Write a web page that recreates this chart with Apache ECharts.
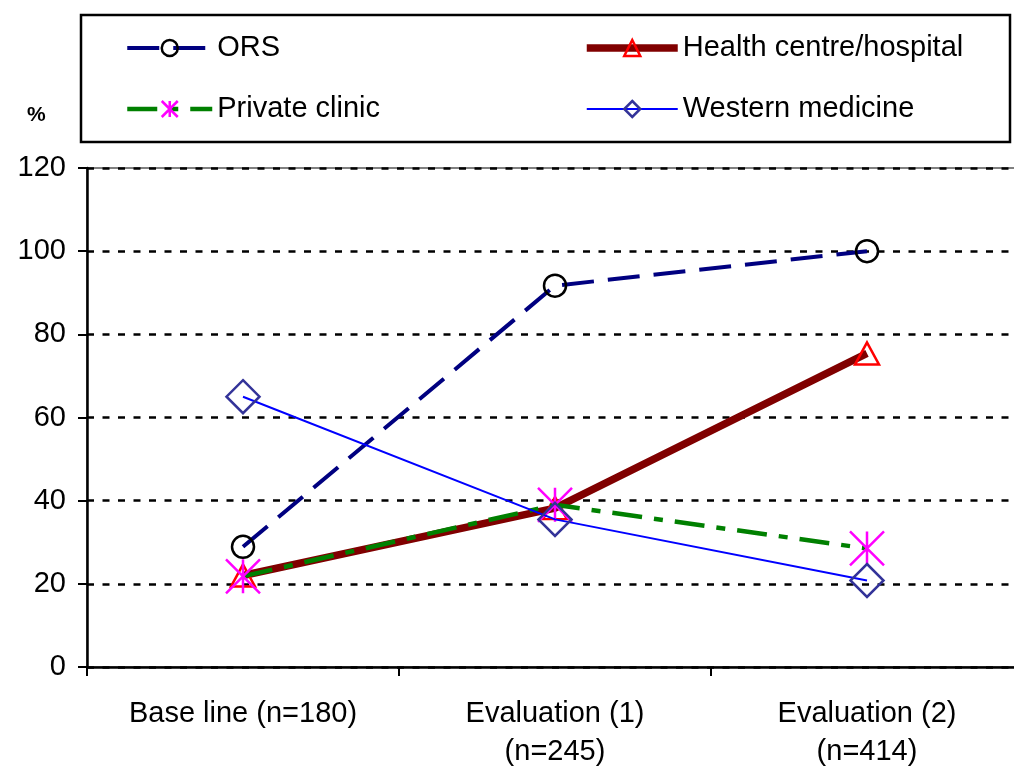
<!DOCTYPE html>
<html>
<head>
<meta charset="utf-8">
<script src="https://cdn.jsdelivr.net/npm/echarts@6/dist/echarts.min.js"></script>
<style>
  html, body { margin: 0; padding: 0; background: #ffffff; }
  #chart { width: 1014px; height: 768px; }
</style>
</head>
<body>
<div id="chart"></div>
<script>
// Survey rounds on the x axis
const categories = ['Base line (n=180)', 'Evaluation (1)\n(n=245)', 'Evaluation (2)\n(n=414)'];

// Percentages per round
const orsValues = [28.9, 91.7, 100];
const healthCentreValues = [22, 38.2, 75.4];
const privateClinicValues = [21.8, 39, 28.5];
const westernMedicineValues = [65, 35.5, 20.8];

// Y axis range
const yMin = 0;
const yMax = 120;
const yStep = 20;

const FONT = '"Liberation Sans", Arial, sans-serif';
const asterisk = 'path://M0,-10 L0,10 M-10,-10 L10,10 M-10,10 L10,-10';

const styles = {
  'ORS': {
    line: { color: '#000080', width: 4, type: [32, 14] },
    item: { color: 'rgba(255,255,255,0)', borderColor: '#000', borderWidth: 2.5 }
  },
  'Health centre/hospital': {
    line: { color: '#800000', width: 7.5, type: 'solid' },
    item: { color: 'rgba(255,255,255,0)', borderColor: '#ff0000', borderWidth: 2.5 }
  },
  'Private clinic': {
    line: { color: '#008000', width: 4.5, type: [30, 12, 9, 12] },
    item: { color: 'rgba(255,255,255,0)', borderColor: '#ff00ff', borderWidth: 2.5 }
  },
  'Western medicine': {
    line: { color: '#0000ff', width: 2, type: 'solid' },
    item: { color: 'rgba(255,255,255,0)', borderColor: '#333399', borderWidth: 2.5 }
  }
};

function legendItems(names) {
  return names.map(n => ({ name: n, lineStyle: styles[n].line, itemStyle: styles[n].item }));
}

const chart = echarts.init(document.getElementById('chart'), null, { renderer: 'canvas' });

chart.setOption({
  animation: false,
  backgroundColor: '#ffffff',
  textStyle: { fontFamily: FONT },
  title: {
    text: '%',
    left: 22,
    top: 100,
    textStyle: { fontFamily: FONT, fontSize: 21, fontWeight: 'bold', color: '#000' }
  },
  graphic: [{
    type: 'rect',
    shape: { x: 81, y: 15, width: 929, height: 127 },
    style: { fill: 'none', stroke: '#000', lineWidth: 2.5 },
    z: 0
  }],
  legend: [{
    data: legendItems(['ORS', 'Private clinic']),
    orient: 'vertical',
    left: 125,
    top: 33,
    padding: 0,
    itemWidth: 85,
    itemHeight: 20,
    itemGap: 31,
    textStyle: { fontFamily: FONT, fontSize: 29, color: '#000', lineHeight: 30 }
  }, {
    data: legendItems(['Health centre/hospital', 'Western medicine']),
    orient: 'vertical',
    left: 583,
    top: 33,
    padding: 0,
    itemWidth: 91,
    itemHeight: 20,
    itemGap: 31,
    textStyle: { fontFamily: FONT, fontSize: 29, color: '#000', lineHeight: 30 }
  }],
  grid: {
    left: 87,
    top: 168,
    width: 936,
    height: 499,
    outerBoundsMode: 'none',
    containLabel: false,
    show: true,
    borderColor: '#808080',
    borderWidth: 2,
    backgroundColor: 'transparent'
  },
  xAxis: {
    type: 'category',
    data: categories,
    boundaryGap: true,
    axisLine: { lineStyle: { color: '#000', width: 2.5 } },
    axisTick: { show: true, length: 9, lineStyle: { color: '#000', width: 2 } },
    axisLabel: {
      fontFamily: FONT, fontSize: 29, color: '#000', lineHeight: 38, margin: 28,
      interval: 0
    },
    splitLine: { show: false }
  },
  yAxis: {
    type: 'value',
    min: yMin,
    max: yMax,
    interval: yStep,
    axisLine: { show: true, lineStyle: { color: '#000', width: 2.5 } },
    axisTick: { show: true, length: 9, lineStyle: { color: '#000', width: 2 } },
    axisLabel: { fontFamily: FONT, fontSize: 29, color: '#000', margin: 21 },
    splitLine: { show: true, lineStyle: { color: '#000', width: 2.5, type: [7, 8.5] } }
  },
  series: [{
    name: 'ORS',
    type: 'line',
    data: orsValues,
    symbol: 'circle',
    symbolSize: 22,
    lineStyle: styles['ORS'].line,
    itemStyle: styles['ORS'].item,
    z: 2
  }, {
    name: 'Health centre/hospital',
    type: 'line',
    data: healthCentreValues,
    symbol: 'triangle',
    symbolSize: [24, 22],
    lineStyle: styles['Health centre/hospital'].line,
    itemStyle: styles['Health centre/hospital'].item,
    z: 3
  }, {
    name: 'Private clinic',
    type: 'line',
    data: privateClinicValues,
    symbol: asterisk,
    symbolSize: 34,
    lineStyle: styles['Private clinic'].line,
    itemStyle: styles['Private clinic'].item,
    z: 4
  }, {
    name: 'Western medicine',
    type: 'line',
    data: westernMedicineValues,
    symbol: 'diamond',
    symbolSize: 33,
    lineStyle: styles['Western medicine'].line,
    itemStyle: styles['Western medicine'].item,
    z: 5
  }]
});
</script>
</body>
</html>
